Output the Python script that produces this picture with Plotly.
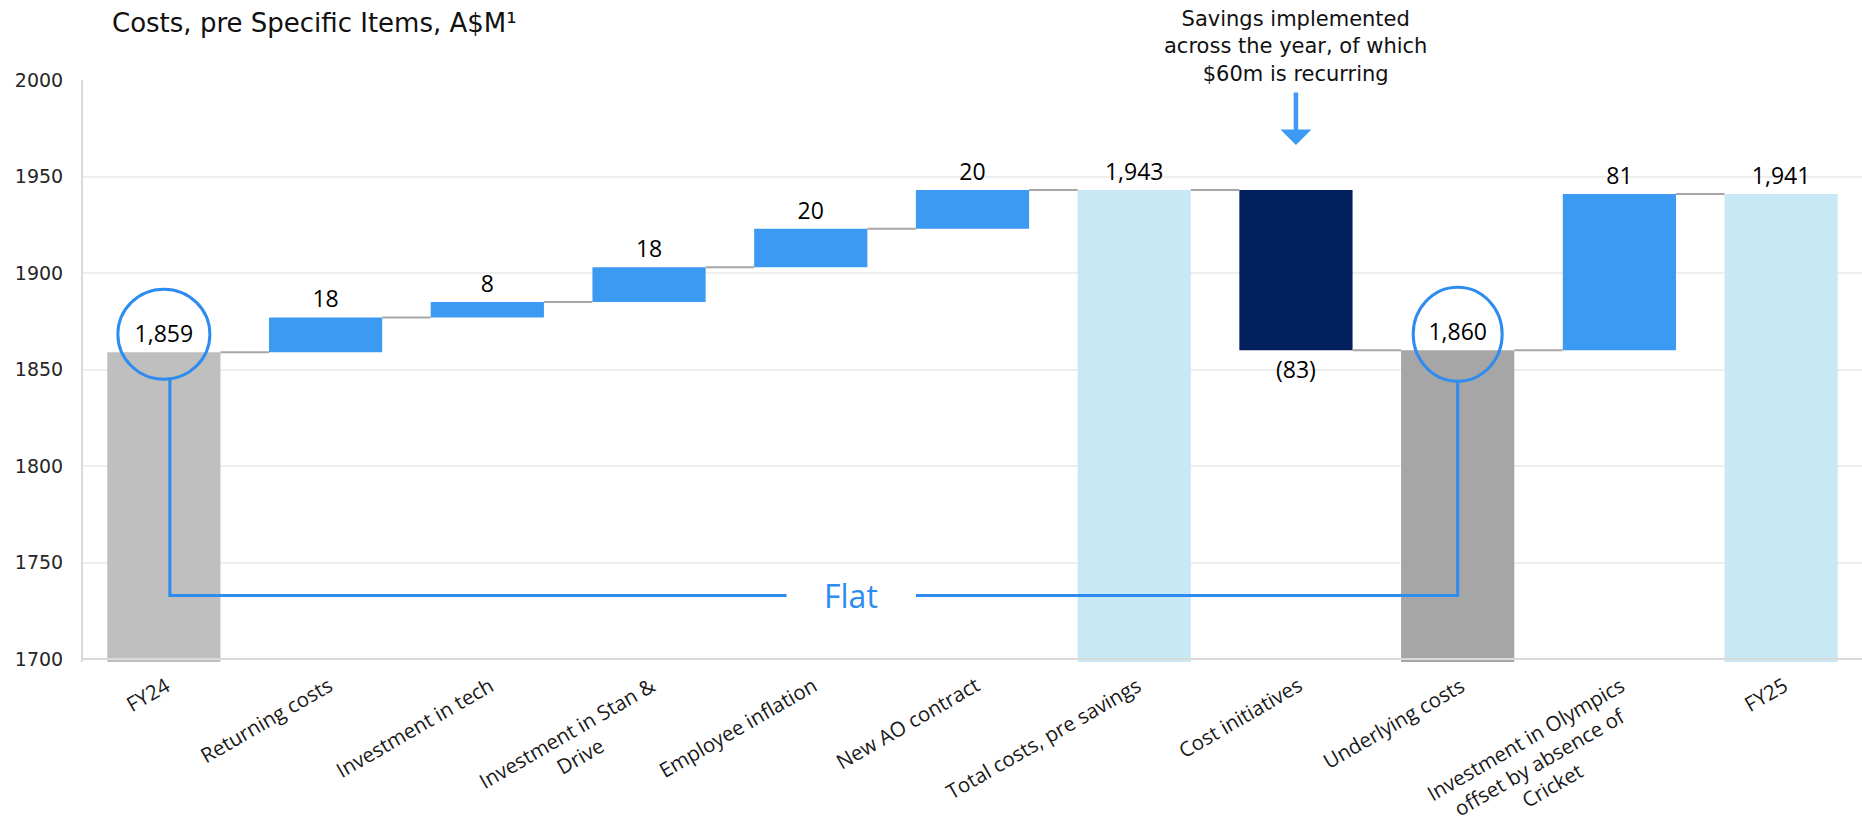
import plotly.graph_objects as go

# ---------------- data ----------------
categories = ["FY24", "Returning costs", "Investment in tech", "Investment in Stan & Drive",
              "Employee inflation", "New AO contract", "Total costs, pre savings",
              "Cost initiatives", "Underlying costs",
              "Investment in Olympics offset by absence of Cricket", "FY25"]
tick_labels = ["FY24", "Returning costs", "Investment in tech", "Investment in Stan &<br>Drive",
               "Employee inflation", "New AO contract", "Total costs, pre savings",
               "Cost initiatives", "Underlying costs",
               "Investment in Olympics<br>offset by absence of<br>Cricket", "FY25"]
measures = ["total", "relative", "relative", "relative", "relative", "relative", "total",
            "relative", "total", "relative", "total"]
values = [1859, 18, 8, 18, 20, 20, 1943, -83, 1860, 81, 1941]
y_ticks = [1700, 1750, 1800, 1850, 1900, 1950, 2000]

# ---------------- styles ----------------
bar_colors = ["#BFBFBF", "#3D9AF2", "#3D9AF2", "#3D9AF2", "#3D9AF2", "#3D9AF2",
              "#C9E8F5", "#02205E", "#A6A6A6", "#3D9AF2", "#C9E8F5"]
BLUE = "#2E8BF0"
AXIS_MIN = 1698.5
AXIS_MAX = 2000
BAR_W = 0.7
PLOT_TOP, PLOT_BOTTOM = 80, 662
PX_PER_UNIT = (PLOT_BOTTOM - PLOT_TOP) / (AXIS_MAX - AXIS_MIN)
FLAT_Y = 1733
FLAT_X = 4.25

# ---------------- compute waterfall geometry from data ----------------
x = list(range(len(categories)))
bases, heights, ends, texts = [], [], [], []
running = 0
for m, v in zip(measures, values):
    if m == "total":
        bases.append(AXIS_MIN)
        heights.append(v - AXIS_MIN)
        running = v
        texts.append(f"{v:,}")
    else:
        bases.append(running)
        heights.append(v)
        running += v
        texts.append(f"{v}" if v >= 0 else f"({abs(v)})")
    ends.append(running)

fig = go.Figure()
fig.add_trace(go.Bar(
    x=x, y=heights, base=bases, width=BAR_W,
    marker=dict(color=bar_colors, line=dict(width=0)),
    text=texts, textposition="outside", constraintext="none", cliponaxis=False,
    textfont=dict(family="Open Sans", size=23, color="#000000"),
    hoverinfo="skip", showlegend=False,
))

# connectors
cx, cy = [], []
for i in range(len(values) - 1):
    cx += [i + BAR_W / 2, i + 1 - BAR_W / 2, None]
    cy += [ends[i], ends[i], None]
fig.add_trace(go.Scatter(x=cx, y=cy, mode="lines", line=dict(color="#A6A6A6", width=2),
                         hoverinfo="skip", showlegend=False))

shapes = []
# axis line at 1700 over bars
shapes.append(dict(type="line", xref="paper", yref="y", x0=0, x1=1, y0=1700, y1=1700,
                   line=dict(color="#D9D9D9", width=2), layer="above"))

# circles around FY24 and Underlying costs
i_fy24 = 0
i_under = categories.index("Underlying costs")
shapes.append(dict(type="circle", xref="x", yref="y", xsizemode="pixel", ysizemode="pixel",
                   xanchor=i_fy24, yanchor=values[i_fy24], x0=-46, x1=46, y0=-27, y1=63,
                   line=dict(color=BLUE, width=3), layer="above"))
shapes.append(dict(type="circle", xref="x", yref="y", xsizemode="pixel", ysizemode="pixel",
                   xanchor=i_under, yanchor=values[i_under], x0=-44.5, x1=44.5, y0=-31, y1=63,
                   line=dict(color=BLUE, width=3), layer="above"))

# "Flat" bracket
y_left_top = values[i_fy24] - 27 / PX_PER_UNIT
y_right_top = values[i_under] - 31 / PX_PER_UNIT
xl = i_fy24 + 6 / 161.75
shapes.append(dict(type="path", xref="x", yref="y",
                   path=f"M {xl},{y_left_top} L {xl},{FLAT_Y} L {FLAT_X - 0.4},{FLAT_Y}",
                   line=dict(color=BLUE, width=3), layer="above"))
shapes.append(dict(type="path", xref="x", yref="y",
                   path=f"M {FLAT_X + 0.4},{FLAT_Y} L {i_under},{FLAT_Y} L {i_under},{y_right_top}",
                   line=dict(color=BLUE, width=3), layer="above"))

annotations = []
annotations.append(dict(x=FLAT_X, y=FLAT_Y, xref="x", yref="y", text="Flat", showarrow=False,
                        font=dict(family="Open Sans", size=32, color=BLUE),
                        xanchor="center", yanchor="middle"))

# title
annotations.append(dict(x=(110 - 83) / 1779, y=(PLOT_BOTTOM - 23) / (PLOT_BOTTOM - PLOT_TOP),
                        xref="paper", yref="paper", text="Costs, pre Specific Items, A$M¹",
                        showarrow=False, xanchor="left", yanchor="middle",
                        font=dict(family="DejaVu Sans", size=26, color="#111111")))

# savings note + arrow
i_cost = categories.index("Cost initiatives")
annotations.append(dict(x=i_cost, y=(PLOT_BOTTOM - 47) / (PLOT_BOTTOM - PLOT_TOP),
                        xref="x", yref="paper",
                        text="Savings implemented<br>across the year, of which<br>$60m is recurring",
                        showarrow=False, xanchor="center", yanchor="middle", align="center",
                        font=dict(family="DejaVu Sans", size=21, color="#111111")))
annotations.append(dict(x=i_cost, y=(PLOT_BOTTOM - 145) / (PLOT_BOTTOM - PLOT_TOP),
                        xref="x", yref="paper", text="", showarrow=True,
                        ax=0, ay=-54, axref="pixel", ayref="pixel",
                        arrowhead=1, arrowsize=1.15, arrowwidth=4.5, arrowcolor="#3D9AF2",
                        standoff=0))

# x tick labels (rotated, centered lines)
for i, lab in enumerate(tick_labels):
    nlines = lab.count("<br>") + 1
    annotations.append(dict(x=i, y=0, xref="x", yref="paper", text=lab, showarrow=False,
                            textangle=-30, xanchor="right", yanchor="top", align="center",
                            xshift=13 * nlines + 1, yshift=-6,
                            font=dict(family="Open Sans", size=20.5, color="#1A1A1A")))

fig.update_layout(
    width=1862, height=837,
    margin=dict(l=83, r=0, t=PLOT_TOP, b=837 - PLOT_BOTTOM),
    paper_bgcolor="white", plot_bgcolor="white",
    bargap=0.3, showlegend=False,
    shapes=shapes, annotations=annotations,
    xaxis=dict(range=[-0.5, len(categories) - 0.5], showticklabels=False, showgrid=False,
               zeroline=False, showline=False, ticks=""),
    yaxis=dict(range=[AXIS_MIN, AXIS_MAX], tickvals=y_ticks, showgrid=True,
               gridcolor="#EEEEEE", gridwidth=2, zeroline=False,
               showline=True, linecolor="#D9D9D9", linewidth=2, ticks="",
               ticklabelstandoff=14,
               tickfont=dict(family="DejaVu Sans", size=19, color="#262626")),
)

fig.write_html("out.html")
